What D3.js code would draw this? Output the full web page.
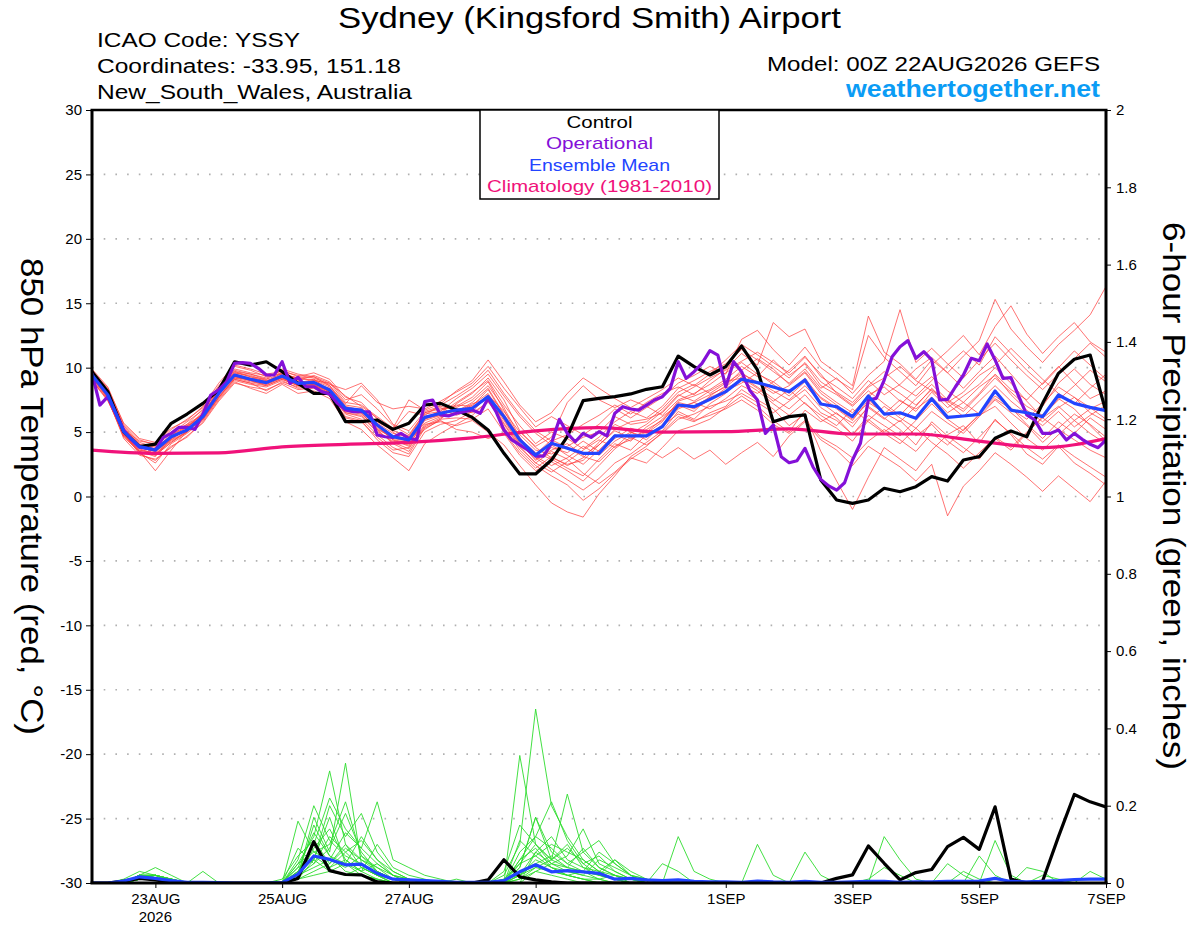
<!DOCTYPE html>
<html><head><meta charset="utf-8">
<script src="https://cdn.jsdelivr.net/npm/d3@7"></script>
<style>body{margin:0;background:#fff}svg{display:block}</style>
</head><body>
<svg id="c" width="1200" height="927"></svg>
<script>
// ---------------- DATA ----------------
const runStart = Date.UTC(2026, 7, 22, 0);   // 00Z 22AUG2026
const endHours = 384;
const stepHours = 6;      // ensemble / control / mean step
const opStepHours = 3;    // operational step
const climStepHours = 24; // climatology step

const dateTicks = ["2026-08-23","2026-08-25","2026-08-27","2026-08-29","2026-09-01","2026-09-03","2026-09-05","2026-09-07"];
const dateLabels = ["23AUG","25AUG","27AUG","29AUG","1SEP","3SEP","5SEP","7SEP"];
const yearLabel = "2026";
const tempTicks = [-30,-25,-20,-15,-10,-5,0,5,10,15,20,25,30];
const precipTicks = [0,0.2,0.4,0.6,0.8,1,1.2,1.4,1.6,1.8,2];

const controlT = [
9.69,8.14,5.03,3.87,4.07,5.68,6.4,7.23,8.27,10.46,
10.2,10.46,9.69,8.78,8.01,8.0,5.81,5.81,5.94,5.21,
5.68,7.1,7.23,6.71,6.14,5.16,3.35,1.75,1.75,2.83,
4.64,7.44,7.62,7.75,7.96,8.32,8.52,10.9,10.08,9.43,
10.08,11.68,9.82,5.8,6.2,6.33,1.28,-0.27,-0.53,-0.27,
0.64,0.37,0.76,1.54,1.2,2.83,3.09,4.52,5.08,4.64,
7.23,9.56,10.65,10.98,6.58];

const operationalT = [
9.56,7.1,7.75,6.46,5.16,4.39,3.82,3.74,3.61,4.59,
4.9,5.37,5.37,5.21,6.4,7.88,8.27,8.91,10.34,10.39,
10.34,9.95,9.43,9.43,10.46,8.78,9.25,8.52,8.52,8.14,
7.96,7.23,6.71,6.58,6.58,6.58,4.77,4.64,4.59,4.9,
4.52,4.39,7.36,7.49,6.33,6.25,6.46,6.58,6.71,6.46,
7.62,6.58,5.16,4.39,4.0,3.61,3.14,3.14,4.13,5.99,
4.9,4.25,4.9,4.59,5.03,4.7,6.46,6.97,6.79,6.71,
7.1,7.49,7.75,8.4,10.46,9.17,9.69,10.34,11.32,10.98,
8.52,10.46,9.69,8.27,7.49,4.9,5.55,3.09,2.62,2.78,
3.74,2.31,1.33,0.82,0.5,1.07,2.83,4.13,7.49,7.62,
9.04,10.85,11.63,12.1,10.73,11.24,10.6,7.49,7.54,8.52,
9.43,10.73,10.54,11.84,10.6,9.17,9.22,7.75,6.33,5.94,
4.9,4.9,5.16,4.39,4.9,4.44,4.05,3.79,4.39];

const meanT = [
9.43,7.88,5.03,3.87,3.61,4.64,5.16,6.2,8.01,9.43,
9.1,8.84,9.35,8.78,8.86,8.27,6.85,6.71,5.55,4.64,
4.39,6.14,6.46,6.71,6.85,7.75,6.2,4.39,3.22,4.13,
3.74,3.35,3.35,4.7,4.7,4.7,5.42,7.1,6.97,7.54,
8.14,9.1,8.84,8.5,8.14,9.04,7.18,6.97,6.2,7.8,
6.4,6.5,6.07,7.59,6.14,6.25,6.38,8.19,6.71,6.5,
6.2,7.88,7.23,6.92,6.66];

const climT = [3.6,3.35,3.38,3.85,4.05,4.2,4.55,5.1,5.34,5.0,5.03,5.25,4.85,4.85,4.3,3.8,4.5];

const member01T = [9.8,8.3,5.4,4.1,3.2,4.2,5.0,6.5,8.2,9.9, 9.6,9.4,9.5,9.2,9.0,8.8,7.8,7.0,6.1,5.0, 4.1,5.2,6.0,7.2,8.0,9.2,7.5,5.1,3.8,3.0, 2.5,2.8,4.0,5.2,5.8,6.0,6.5,7.8,8.5,9.2, 9.8,10.5,11.2,10.4,9.6,10.8,9.5,8.0,7.1,8.5, 9.2,10.1,9.0,8.2,7.3,8.1,9.4,10.2,11.5,10.3, 9.1,8.0,7.2,8.4,9.5];
const member02T = [9.2,7.6,4.6,3.5,2.0,3.6,5.1,6.0,7.7,9.1, 8.8,8.2,8.9,8.5,8.6,8.0,6.1,5.8,4.6,3.6, 3.8,5.6,5.8,5.5,5.9,5.0,4.0,2.4,0.9,-0.5, -1.2,-1.6,0.2,1.6,3.1,3.9,5.0,6.2,5.8,6.5, 7.0,8.3,7.5,6.8,5.5,6.4,3.5,1.2,-1.0,1.5, 3.8,2.9,2.0,3.6,4.8,5.5,4.1,6.0,4.8,3.3, 2.5,3.9,2.6,1.8,0.9];
const member03T = [9.6,8.1,5.2,4.3,4.1,5.0,5.6,6.4,8.3,9.7, 9.3,9.1,9.9,9.5,9.3,8.6,7.2,8.6,7.3,6.8, 7.0,6.8,7.4,8.1,8.8,10.1,8.4,6.9,5.4,6.2, 5.5,4.8,5.6,6.8,6.1,6.9,7.7,8.8,9.4,10.1, 9.5,12.2,12.9,11.4,10.2,11.6,10.0,9.1,8.3,12.5, 10.8,9.7,8.6,10.2,11.3,12.5,11.0,13.2,14.8,12.6, 11.1,12.4,13.5,12.0,11.2];
const member04T = [9.0,7.4,4.9,3.3,2.8,3.9,4.6,5.8,7.5,8.9, 8.4,8.0,8.7,8.0,8.2,7.6,5.8,5.2,4.0,3.0, 2.0,4.1,4.9,5.6,6.3,7.4,5.6,3.8,2.6,3.5, 2.9,1.8,1.0,1.9,3.0,2.6,3.8,5.1,5.5,6.0, 6.9,7.8,7.0,5.9,5.0,6.7,5.8,6.5,5.4,7.0, 6.1,5.2,4.0,5.8,4.7,3.8,2.9,4.5,3.6,4.9, 6.2,7.6,6.8,5.5,4.3];
const member05T = [9.9,8.5,5.6,4.4,4.0,5.2,6.0,6.9,8.6,10.1, 9.8,9.3,9.6,9.0,9.4,8.9,7.5,7.9,6.8,5.5, 4.8,6.5,6.9,6.3,6.8,7.9,6.6,5.0,3.9,4.6, 7.3,8.6,7.5,6.9,7.5,7.0,6.3,7.5,8.0,8.7, 9.6,10.4,9.5,8.9,9.8,10.9,9.3,8.5,7.6,9.0, 7.9,8.7,9.9,10.8,9.6,8.4,9.7,10.9,9.5,8.1, 7.0,8.8,9.9,8.7,7.9];
const member06T = [9.4,7.8,4.8,3.6,3.4,4.5,5.4,6.3,8.1,9.5, 9.2,9.0,9.4,8.9,8.8,8.1,6.5,6.2,5.0,4.3, 4.0,5.9,6.3,6.9,7.5,8.6,6.9,4.6,3.0,2.1, 1.3,0.5,1.4,2.6,3.3,4.2,5.1,6.6,6.0,7.2, 8.0,9.3,8.5,7.6,6.8,7.9,6.5,5.9,4.8,6.3, 5.5,4.7,5.9,7.2,6.0,5.1,6.4,7.8,6.9,5.6, 4.5,5.8,4.9,6.1,5.2];
const member07T = [9.7,8.0,5.1,3.8,3.5,4.4,5.3,6.6,8.4,9.6, 9.4,9.0,9.2,8.7,9.0,8.5,7.1,6.9,5.7,4.9, 4.6,6.4,6.6,7.6,8.4,9.5,7.8,6.2,4.9,4.0, 3.2,2.5,3.6,4.8,4.3,5.4,6.2,7.1,6.6,7.8, 8.6,9.8,10.7,9.9,8.7,9.7,8.2,7.3,6.5,7.7, 8.8,8.0,7.1,8.3,7.4,6.6,7.9,9.2,8.1,7.0, 6.3,7.5,8.6,9.8,8.9];
const member08T = [9.3,7.7,5.3,4.0,3.7,4.8,5.5,6.1,7.9,9.3, 9.0,8.6,9.1,8.6,8.7,8.4,6.8,6.5,5.2,4.1, 3.5,5.4,6.0,6.1,6.0,6.8,5.0,3.4,2.2,3.1, 2.4,3.0,4.2,5.6,5.0,4.4,5.6,6.9,7.3,6.8, 7.6,8.6,8.0,8.9,8.0,9.2,7.6,6.8,5.9,7.5, 6.4,7.5,6.6,8.1,6.9,7.8,8.7,10.0,8.8,7.4, 6.1,7.0,5.9,6.8,7.4];
const member09T = [9.5,8.2,5.0,3.7,3.3,4.3,5.0,6.2,7.8,9.2, 9.1,8.9,9.6,9.1,9.1,8.2,6.9,6.6,5.4,4.4, 3.9,6.0,6.7,7.1,7.0,8.3,6.3,4.2,2.8,3.8, 3.4,4.3,3.5,4.5,5.3,4.9,5.8,7.4,7.8,8.3, 9.1,10.1,9.3,10.6,9.4,10.3,8.6,7.9,7.0,8.2, 7.2,6.3,7.6,8.7,7.5,6.8,8.0,9.5,8.3,7.5, 8.8,10.1,8.8,7.6,8.2];
const member10T = [9.1,7.5,4.7,3.4,2.6,4.1,4.9,5.9,7.6,9.0, 8.7,8.5,9.0,8.4,8.5,7.9,6.4,6.0,4.8,3.8, 3.3,5.3,5.9,5.2,5.0,4.5,4.9,3.2,2.0,2.7, 2.0,1.2,2.4,3.7,4.6,4.0,4.9,6.0,6.4,7.0, 7.4,8.0,7.3,6.5,7.4,8.3,6.9,6.1,4.8,6.0, 5.0,5.9,4.7,5.6,4.3,3.4,4.6,5.9,4.9,3.8, 2.9,4.0,3.1,2.3,1.5];
const member11T = [9.6,8.2,5.5,4.2,3.8,4.7,5.6,6.8,8.5,9.8, 9.5,9.2,9.8,9.3,9.6,9.1,7.7,7.3,6.0,5.2, 6.6,6.3,7.1,7.8,8.6,9.8,8.0,6.4,5.1,4.3, 4.8,5.6,6.3,7.1,6.4,7.3,8.0,8.5,7.9,9.0, 9.9,11.1,10.2,13.5,12.4,13.0,10.5,9.6,8.6,14.0, 11.2,10.3,9.1,10.6,9.6,10.9,12.1,15.3,13.0,11.6, 10.4,11.8,12.9,14.1,16.3];
const member12T = [9.2,7.9,4.9,3.5,3.1,4.5,5.2,6.0,7.7,9.2, 8.9,8.7,9.2,8.7,8.7,8.0,6.6,6.4,5.3,4.5, 4.3,5.7,6.2,6.5,7.2,7.6,5.9,4.0,3.3,4.4, 3.8,3.1,2.7,3.9,4.4,5.2,5.9,7.2,6.8,7.5, 8.4,9.0,8.2,7.2,6.3,7.3,6.0,5.3,4.3,5.9, 7.0,6.1,5.3,6.6,5.7,4.9,6.2,7.5,6.5,5.5, 4.2,5.3,6.4,5.6,4.6];
const member13T = [9.8,8.4,5.7,4.5,4.2,5.3,5.9,7.0,8.8,10.2, 9.9,9.5,9.7,9.4,9.2,8.7,8.3,8.8,7.5,5.6, 5.1,6.6,7.0,6.7,6.5,7.3,6.1,4.8,3.6,3.3, 3.9,4.6,5.0,6.2,5.6,5.8,6.8,8.1,8.7,8.0, 8.8,9.6,8.8,8.0,8.6,9.6,8.0,7.1,6.2,7.9, 8.5,7.4,6.8,7.7,6.5,7.3,8.5,9.4,7.9,6.7, 5.8,6.9,7.7,6.5,5.8];
const member14T = [9.3,7.6,4.5,3.2,2.9,3.8,4.7,5.7,7.4,8.8, 8.5,8.3,8.8,8.3,8.4,7.8,6.2,5.9,4.4,3.4, 3.1,5.0,5.6,5.9,6.6,7.8,5.4,3.6,2.4,1.6, 0.9,-0.3,0.6,1.8,2.9,3.7,3.0,3.8,2.9,3.6, 2.5,3.4,4.2,3.1,4.7,5.8,4.4,3.6,2.4,3.9, 3.1,2.3,1.2,2.5,-1.5,0.8,2.0,3.4,2.5,1.5, 0.4,1.6,0.6,-0.4,1.2];
const member15T = [9.7,8.1,5.2,3.9,3.6,4.6,5.5,6.4,8.2,9.6, 9.3,8.9,9.4,8.8,9.1,8.6,7.0,6.7,5.6,4.7, 4.5,6.2,6.5,7.3,8.1,9.0,7.1,5.5,4.1,5.0, 4.5,3.7,4.6,5.8,6.6,6.1,7.0,8.4,9.0,9.7, 10.3,11.4,10.6,9.7,8.8,9.9,8.4,9.2,8.0,9.4, 10.5,14.5,10.4,11.5,10.3,9.2,10.6,11.9,10.6,9.4, 8.3,9.5,10.7,11.9,10.8];
const member16T = [9.4,7.9,5.1,3.8,3.5,4.6,5.2,6.1,7.9,9.4, 9.0,8.8,9.3,8.9,8.9,8.3,6.7,6.8,5.8,5.1, 4.7,6.5,6.8,7.0,7.7,8.9,6.7,4.4,3.1,2.4, 3.0,3.9,3.2,4.3,5.0,4.6,5.4,6.8,7.3,7.9, 8.5,9.5,8.9,8.2,7.5,8.6,7.3,6.4,5.7,6.9, 6.0,7.1,8.3,9.3,8.2,7.3,6.4,7.6,6.8,6.0, 7.2,8.5,7.7,6.9,6.0];
const member17T = [9.0,7.5,4.8,3.6,3.3,4.4,5.0,6.0,7.7,9.1, 8.8,8.6,9.1,8.6,8.7,8.1,6.5,6.3,5.1,4.2, 3.7,5.5,6.1,6.6,7.3,8.4,6.4,4.5,3.4,2.9, 2.2,1.6,2.9,4.1,3.6,4.8,5.5,6.4,5.9,6.3, 6.8,7.5,6.7,5.6,4.9,5.9,4.6,3.9,3.0,4.3, 5.2,4.4,3.5,4.9,4.0,5.2,6.3,7.0,5.7,4.5, 3.6,4.8,5.9,4.9,4.1];
const member18T = [9.5,8.0,5.3,4.0,3.9,4.9,5.8,6.7,8.3,9.7, 9.5,9.1,9.5,9.2,9.3,8.8,7.3,7.1,6.2,5.3, 7.5,6.7,7.2,8.2,9.0,10.6,8.9,7.1,5.8,6.5, 8.0,9.2,8.4,7.6,6.9,7.6,8.3,9.2,8.6,9.5, 10.6,11.8,11.0,10.1,9.2,10.4,8.9,8.1,7.3,8.6, 9.7,8.6,7.8,9.0,10.2,11.3,10.2,12.4,11.1,9.8, 8.7,10.0,11.3,10.2,9.1];
const member19T = [9.2,7.7,4.7,3.5,3.2,4.2,5.1,6.3,8.0,9.3, 9.0,8.7,9.2,8.6,8.6,8.2,6.9,6.6,5.5,4.4, 4.2,6.0,6.4,6.8,6.9,7.6,5.7,3.9,2.6,1.9, 2.7,3.6,4.4,3.8,4.9,5.6,6.6,7.9,7.4,8.2, 8.9,9.2,8.4,7.4,8.3,7.2,6.3,5.5,6.8,5.8, 4.9,4.1,5.3,4.2,3.3,2.2,3.4,4.6,3.8,5.0, 6.1,5.2,4.4,3.6,3.0];
const member20T = [9.6,8.1,5.0,3.9,3.7,4.7,5.4,6.4,8.1,9.5, 9.1,8.8,9.3,8.8,8.9,8.3,6.7,6.5,5.2,4.6, 4.4,6.1,6.3,6.4,7.1,8.0,6.0,4.1,2.9,3.6, 4.1,3.2,4.0,5.1,4.5,5.0,6.0,7.3,7.0,7.7, 8.2,8.8,9.6,8.7,7.8,8.9,7.7,6.9,6.0,7.3, 6.5,5.8,7.0,8.4,7.2,6.2,7.4,8.6,7.4,6.4, 5.5,6.6,5.4,6.3,7.1];
const membersT = [member01T,member02T,member03T,member04T,member05T,member06T,member07T,member08T,member09T,member10T,
                  member11T,member12T,member13T,member14T,member15T,member16T,member17T,member18T,member19T,member20T];

const controlP = [
0,0,0.005,0.012,0.008,0.002,0,0,0,0,
0,0,0,0.012,0.107,0.032,0.022,0.021,0.003,0,
0,0,0,0,0,0.008,0.06,0.016,0.008,0.003,
0,0,0,0,0,0,0,0,0,0,
0,0,0,0,0,0,0,0.012,0.021,0.096,
0.051,0.008,0.027,0.035,0.094,0.118,0.087,0.197,0.01,0,
0.005,0.12,0.229,0.21,0.197];

const meanP = [
0,0,0.005,0.016,0.012,0.006,0.002,0.002,0.001,0,
0,0,0.001,0.023,0.07,0.061,0.047,0.049,0.025,0.01,
0.008,0.006,0.004,0.002,0.002,0.002,0.006,0.029,0.047,0.029,
0.032,0.029,0.025,0.01,0.012,0.008,0.006,0.008,0.004,0.003,
0.003,0.002,0.005,0.003,0.002,0.004,0.002,0.002,0.003,0.004,
0.004,0.002,0.003,0.003,0.004,0.004,0.005,0.012,0.004,0.003,
0.004,0.006,0.009,0.01,0.01];

const member01P = [0,0,0.01,0.03,0.02,0.01,0,0,0,0, 0,0,0,0.05,0.12,0.29,0.1,0.06,0.03,0.01, 0.01,0,0,0,0,0,0.02,0.1,0.45,0.2, 0.12,0.06,0.03,0.02,0.01,0,0,0,0,0, 0,0,0.1,0.02,0,0,0,0,0,0, 0,0,0,0,0,0,0,0,0,0, 0,0,0,0,0];
const member02P = [0,0,0,0.02,0.04,0.02,0,0,0,0, 0,0,0,0.02,0.17,0.08,0.31,0.05,0.02,0, 0,0,0,0,0,0,0,0.33,0.1,0.06, 0.04,0.03,0.08,0.05,0.02,0.01,0,0,0,0, 0,0,0,0,0,0,0,0,0,0.01, 0.04,0.02,0,0,0,0,0,0,0,0, 0,0,0,0,0];
const member03P = [0,0,0,0.01,0.01,0,0,0.03,0,0, 0,0,0,0.01,0.06,0.2,0.12,0.18,0.08,0.03, 0.01,0,0,0.01,0,0,0,0.04,0.17,0.06, 0.23,0.08,0.04,0.02,0,0,0,0.12,0.03,0.01, 0,0,0,0,0,0,0,0,0,0, 0,0,0,0,0.05,0.02,0,0,0,0, 0,0,0,0,0];
const member04P = [0,0,0,0.02,0.01,0.01,0,0,0,0, 0,0,0,0.16,0.08,0.1,0.21,0.07,0.04,0.01, 0,0,0,0,0,0,0.01,0.02,0.08,0.05, 0.07,0.14,0.05,0.03,0.01,0,0,0,0,0, 0,0,0,0,0,0.08,0.02,0,0,0, 0,0,0,0,0,0,0.07,0.02,0,0, 0,0,0,0,0];
const member05P = [0,0,0,0.01,0.02,0,0,0,0,0, 0,0,0,0.03,0.1,0.22,0.14,0.09,0.21,0.06, 0.04,0.02,0.01,0,0,0,0,0.06,0.12,0.09, 0.05,0.08,0.11,0.05,0.02,0.01,0,0,0,0, 0,0,0,0,0,0,0,0,0,0, 0.12,0.06,0.01,0,0,0,0,0.11,0.02,0, 0,0,0,0,0];
const member06P = [0,0,0,0.02,0.02,0.01,0,0,0,0, 0,0,0,0.04,0.13,0.07,0.05,0.12,0.06,0.02, 0.01,0,0,0,0,0,0,0,0.08,0.12, 0.06,0.04,0.02,0.06,0.03,0.01,0,0,0,0, 0,0,0,0,0,0,0,0,0,0, 0,0,0,0,0,0.03,0.01,0,0,0.04, 0.03,0,0,0,0];
const member07P = [0,0,0,0.01,0.02,0.01,0,0,0,0, 0,0,0.01,0.07,0.11,0.05,0.1,0.04,0.02,0, 0,0,0,0,0,0,0.03,0.15,0.1,0.05, 0.03,0.02,0.06,0.04,0.02,0,0,0,0,0, 0,0,0,0,0,0,0,0,0,0, 0,0,0,0,0,0,0,0,0,0, 0,0,0,0.03,0.01];
const member08P = [0,0,0,0.02,0.01,0,0,0,0,0, 0,0,0,0.02,0.05,0.09,0.18,0.08,0.03,0.01, 0,0,0,0,0,0,0,0.02,0.06,0.04, 0.02,0.01,0.01,0.02,0,0,0.05,0.03,0,0, 0,0,0,0,0,0,0,0,0,0, 0,0,0,0,0,0,0,0,0,0, 0,0,0,0,0];
const member09P = [0,0,0,0.01,0.01,0.01,0,0,0,0, 0,0,0,0.01,0.09,0.14,0.06,0.03,0.1,0.04, 0.02,0.01,0,0,0,0,0.01,0.05,0.07,0.1, 0.08,0.06,0.03,0.01,0,0,0,0,0,0, 0,0,0,0,0,0,0,0,0,0, 0,0,0,0,0,0,0,0,0,0, 0.02,0.01,0,0,0];
const member10P = [0,0,0,0.02,0.02,0.01,0,0,0,0, 0,0,0,0.06,0.2,0.11,0.07,0.05,0.02,0, 0,0,0,0,0,0,0,0.08,0.12,0.21, 0.11,0.05,0.02,0.01,0,0,0,0,0,0, 0,0,0,0,0,0,0,0,0,0, 0,0,0,0,0,0,0,0,0,0, 0,0,0,0,0];
const member11P = [0,0,0,0.01,0.02,0.01,0,0,0,0, 0,0,0,0.02,0.07,0.04,0.08,0.11,0.06,0.03, 0.01,0,0,0,0,0,0,0.01,0.04,0.06, 0.09,0.05,0.07,0.03,0.01,0,0,0,0,0, 0,0,0,0,0,0,0,0,0,0, 0,0,0,0,0,0,0,0,0,0, 0,0,0,0,0];
const member12P = [0,0,0,0.02,0.01,0.01,0,0,0,0, 0,0,0,0.03,0.06,0.17,0.05,0.03,0.01,0, 0,0,0,0,0,0,0,0.11,0.07,0.04, 0.03,0.02,0.01,0,0,0,0,0,0,0, 0,0,0,0,0,0,0,0,0,0, 0,0,0,0,0,0,0,0,0,0, 0,0,0,0,0];
const member13P = [0,0,0,0.01,0.01,0,0,0,0,0, 0,0,0,0.05,0.08,0.06,0.13,0.09,0.05,0.02, 0,0,0,0,0,0,0,0.04,0.17,0.08, 0.05,0.03,0.02,0.01,0,0,0,0,0,0, 0,0,0,0,0,0,0,0,0,0, 0,0,0,0,0,0,0,0,0,0, 0,0,0,0,0];
const member14P = [0,0,0,0.02,0.02,0.01,0,0,0,0, 0,0,0,0.02,0.04,0.06,0.04,0.07,0.03,0.01, 0,0,0,0,0,0,0,0.03,0.05,0.07, 0.04,0.09,0.04,0.02,0.01,0,0,0,0,0, 0,0,0,0,0,0,0,0,0,0, 0,0,0,0,0,0,0,0,0,0, 0,0,0,0,0];
const member15P = [0,0,0,0.01,0.02,0.01,0,0,0,0, 0,0,0,0.09,0.05,0.12,0.08,0.04,0.02,0.01, 0,0,0,0,0,0,0,0.05,0.1,0.06, 0.1,0.04,0.03,0.06,0.02,0,0,0,0,0, 0,0,0,0,0,0,0,0,0,0, 0,0,0,0,0,0,0,0,0,0, 0,0,0,0,0];
const member16P = [0,0,0,0.02,0.01,0,0,0,0,0, 0,0,0,0.01,0.03,0.05,0.09,0.06,0.04,0.02, 0.01,0,0,0,0,0,0,0,0.03,0.05, 0.04,0.03,0.02,0.01,0,0,0,0,0,0, 0,0,0,0,0,0,0,0,0,0, 0,0,0,0,0,0,0,0,0,0, 0,0,0,0,0];
const member17P = [0,0,0,0.01,0.01,0,0,0,0,0, 0,0,0,0.02,0.15,0.07,0.03,0.02,0.01,0, 0,0,0,0,0,0,0,0.06,0.09,0.04, 0.02,0.01,0,0,0,0,0,0,0,0, 0,0,0,0,0,0,0,0,0,0, 0,0,0,0,0,0,0,0,0,0, 0,0,0,0,0];
const member18P = [0,0,0,0.02,0.01,0.01,0,0,0,0, 0,0,0,0.03,0.1,0.04,0.06,0.03,0.05,0.02, 0,0,0,0,0,0,0,0.02,0.04,0.03, 0.02,0.01,0,0,0,0,0,0,0,0, 0,0,0,0,0,0,0,0,0,0, 0,0,0,0,0,0,0,0,0,0, 0,0,0,0,0];
const member19P = [0,0,0,0.01,0.01,0.01,0,0,0,0, 0,0,0,0.01,0.02,0.03,0.02,0.04,0.02,0.01, 0,0,0,0,0,0,0,0.01,0.03,0.02, 0.01,0,0,0,0,0,0,0,0,0, 0,0,0,0,0,0,0,0,0,0, 0,0,0,0,0,0,0,0,0,0, 0,0,0,0,0];
const member20P = [0,0,0,0.02,0.02,0,0,0,0,0, 0,0,0,0.04,0.06,0.03,0.05,0.02,0.01,0, 0,0,0,0,0,0,0,0.02,0.05,0.03, 0.02,0.03,0.01,0,0,0,0,0,0,0, 0,0,0,0,0,0,0,0,0,0, 0,0,0,0,0,0,0,0,0,0, 0,0,0,0,0];
const membersP = [member01P,member02P,member03P,member04P,member05P,member06P,member07P,member08P,member09P,member10P,
                  member11P,member12P,member13P,member14P,member15P,member16P,member17P,member18P,member19P,member20P];

// ---------------- CHART ----------------
const FONT = "'Liberation Sans', Arial, Helvetica, sans-serif";
const HOUR = 3600e3;
const svg = d3.select("#c");
svg.append("rect").attr("width", 1200).attr("height", 927).attr("fill", "#fff");

const x = d3.scaleUtc()
  .domain([new Date(runStart), new Date(runStart + endHours * HOUR)])
  .range([92, 1106]);
const yT = d3.scaleLinear().domain([-30, 30]).range([883, 110]);
const yP = d3.scaleLinear().domain([0, 2]).range([883, 110]);
const [xL, xR] = x.range();
const [yB, yTop] = yT.range();

const timeAt = step => i => new Date(runStart + i * step * HOUR);

// clip
svg.append("defs").append("clipPath").attr("id", "clip")
  .append("rect").attr("x", xL).attr("y", yTop).attr("width", xR - xL).attr("height", yB - yTop);

// gridlines (dotted)
svg.append("g").selectAll("line")
  .data(tempTicks.filter(t => t > -30 && t < 30)).join("line")
  .attr("x1", xL).attr("x2", xR)
  .attr("y1", d => yT(d)).attr("y2", d => yT(d))
  .attr("stroke", "#b0b0b0").attr("stroke-width", 1.6)
  .attr("stroke-dasharray", "1.6,10.1");

const plot = svg.append("g").attr("clip-path", "url(#clip)");

const line6T = d3.line().x((d, i) => x(timeAt(stepHours)(i))).y(d => yT(d));
const line3T = d3.line().x((d, i) => x(timeAt(opStepHours)(i))).y(d => yT(d));
const lineClim = d3.line().x((d, i) => x(timeAt(climStepHours)(i))).y(d => yT(d)).curve(d3.curveMonotoneX);
const line6P = d3.line().x((d, i) => x(timeAt(stepHours)(i))).y(d => yP(d));

// ensemble members (temperature)
plot.append("g").selectAll("path").data(membersT).join("path")
  .attr("d", line6T).attr("fill", "none")
  .attr("stroke", "#ff3c3c").attr("stroke-width", 0.9).attr("stroke-opacity", 0.8);

// ensemble members (precipitation)
plot.append("g").selectAll("path").data(membersP).join("path")
  .attr("d", line6P).attr("fill", "none")
  .attr("stroke", "#2edc2e").attr("stroke-width", 0.9);

// climatology
plot.append("path").datum(climT).attr("d", lineClim).attr("fill", "none")
  .attr("stroke", "#f0127a").attr("stroke-width", 3.2);
// control
plot.append("path").datum(controlT).attr("d", line6T).attr("fill", "none")
  .attr("stroke", "#000").attr("stroke-width", 3.2).attr("stroke-linejoin", "round");
// operational
plot.append("path").datum(operationalT).attr("d", line3T).attr("fill", "none")
  .attr("stroke", "#8410d8").attr("stroke-width", 3.2).attr("stroke-linejoin", "round");
// ensemble mean
plot.append("path").datum(meanT).attr("d", line6T).attr("fill", "none")
  .attr("stroke", "#2244ff").attr("stroke-width", 3.2).attr("stroke-linejoin", "round");
// precip control + mean
plot.append("path").datum(controlP).attr("d", line6P).attr("fill", "none")
  .attr("stroke", "#000").attr("stroke-width", 3.2).attr("stroke-linejoin", "round");
plot.append("path").datum(meanP).attr("d", line6P).attr("fill", "none")
  .attr("stroke", "#2244ff").attr("stroke-width", 3.2).attr("stroke-linejoin", "round");

// axes
function styleAxis(g) {
  g.select(".domain").remove();
  g.selectAll(".tick line").attr("stroke", "#000").attr("stroke-width", 1);
  g.selectAll(".tick text").attr("fill", "#000").style("font-family", FONT).style("font-size", "15px");
}
svg.append("g").attr("transform", `translate(${xL},0)`)
  .call(d3.axisLeft(yT).tickValues(tempTicks).tickFormat(d => String(d)).tickSize(6).tickPadding(4).tickSizeOuter(0))
  .call(styleAxis);
svg.append("g").attr("transform", `translate(${xR},0)`)
  .call(d3.axisRight(yP).tickValues(precipTicks).tickFormat(d => String(+d.toFixed(1))).tickSize(5).tickPadding(5).tickSizeOuter(0))
  .call(styleAxis);
const tickDates = dateTicks.map(s => new Date(s + "T00:00:00Z"));
svg.append("g").attr("transform", `translate(0,${yB})`)
  .call(d3.axisBottom(x).tickValues(tickDates).tickFormat((d, i) => dateLabels[i]).tickSize(5).tickPadding(5).tickSizeOuter(0))
  .call(styleAxis);
svg.append("text").attr("x", x(tickDates[0])).attr("y", 922)
  .attr("text-anchor", "middle").style("font-family", FONT).style("font-size", "15px").text(yearLabel);

// frame
svg.append("line").attr("x1", xL - 1.5).attr("x2", xR + 1.5).attr("y1", yTop).attr("y2", yTop).attr("stroke", "#000").attr("stroke-width", 2.5);
svg.append("line").attr("x1", xL - 1.5).attr("x2", xR + 1.5).attr("y1", yB).attr("y2", yB).attr("stroke", "#000").attr("stroke-width", 3);
svg.append("line").attr("x1", xL).attr("x2", xL).attr("y1", yTop).attr("y2", yB).attr("stroke", "#000").attr("stroke-width", 3);
svg.append("line").attr("x1", xR).attr("x2", xR).attr("y1", yTop).attr("y2", yB).attr("stroke", "#000").attr("stroke-width", 3);

// legend
const leg = svg.append("g");
leg.append("rect").attr("x", 480).attr("y", yTop).attr("width", 239).attr("height", 89)
  .attr("fill", "#fff").attr("stroke", "#000").attr("stroke-width", 1.5);
const legendItems = [
  {t: "Control", c: "#000", y: 128, w: 66},
  {t: "Operational", c: "#8410d8", y: 149, w: 107},
  {t: "Ensemble Mean", c: "#2244ff", y: 171, w: 141},
  {t: "Climatology (1981-2010)", c: "#f0127a", y: 192, w: 225}
];
leg.selectAll("text").data(legendItems).join("text")
  .attr("x", 599.5).attr("y", d => d.y).attr("text-anchor", "middle")
  .attr("fill", d => d.c).style("font-family", FONT).style("font-size", "17px")
  .attr("textLength", d => d.w).attr("lengthAdjust", "spacingAndGlyphs")
  .text(d => d.t);

// header texts
function txt(s, xx, yy, size, anchor, len, opts = {}) {
  const t = svg.append("text").attr("x", xx).attr("y", yy).attr("text-anchor", anchor)
    .style("font-family", FONT).style("font-size", size + "px")
    .attr("fill", opts.fill || "#000").text(s);
  if (opts.bold) t.style("font-weight", "bold");
  if (len) t.attr("textLength", len).attr("lengthAdjust", "spacingAndGlyphs");
  return t;
}
txt("Sydney (Kingsford Smith) Airport", 589.5, 28, 30, "middle", 503);
txt("ICAO Code: YSSY", 97, 47, 20, "start", 203);
txt("Coordinates: -33.95, 151.18", 97, 73, 20, "start", 304);
txt("New_South_Wales, Australia", 97, 99, 20, "start", 315);
txt("Model: 00Z 22AUG2026 GEFS", 1100, 71, 20, "end", 333);
txt("weathertogether.net", 1100, 97, 23, "end", 254, {fill: "#0b9cf5", bold: true});

// axis titles (rotated, reading top to bottom)
svg.append("text").attr("transform", "translate(21,496.5) rotate(90)")
  .attr("text-anchor", "middle").style("font-family", FONT).style("font-size", "31px")
  .attr("textLength", 477).attr("lengthAdjust", "spacingAndGlyphs")
  .text("850 hPa Temperature (red, °C)");
svg.append("text").attr("transform", "translate(1163,496) rotate(90)")
  .attr("text-anchor", "middle").style("font-family", FONT).style("font-size", "31px")
  .attr("textLength", 548).attr("lengthAdjust", "spacingAndGlyphs")
  .text("6-hour Precipitation (green, inches)");
</script>
</body></html>
